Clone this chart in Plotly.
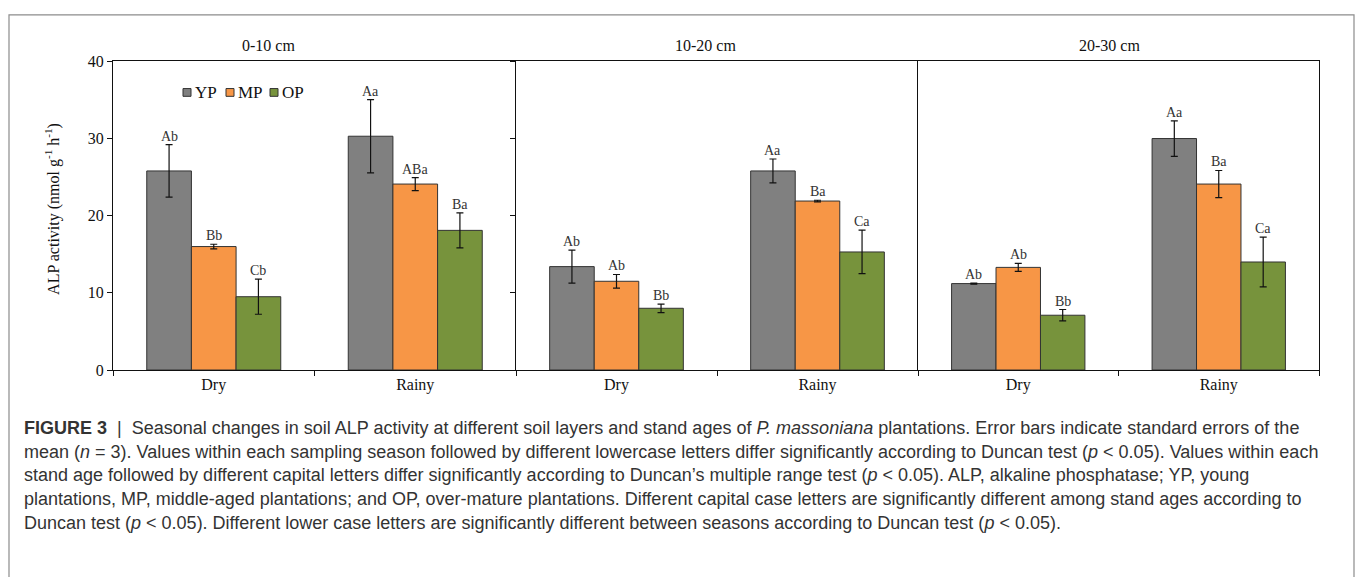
import plotly.graph_objects as go

# ---------------- data ----------------
seasons = ["Dry", "Rainy"]
layers = ["0-10 cm", "10-20 cm", "20-30 cm"]
series = ["YP", "MP", "OP"]
colors = ["#808080", "#F79646", "#77933C"]

# mean ALP activity per layer: [Dry, Rainy]
yp_mean = [[25.8, 30.3], [13.4, 25.8], [11.2, 30.0]]
mp_mean = [[16.0, 24.1], [11.5, 21.9], [13.3, 24.1]]
op_mean = [[9.5, 18.1], [8.0, 15.3], [7.1, 14.0]]

# standard errors
yp_se = [[3.4, 4.75], [2.15, 1.55], [0.08, 2.3]]
mp_se = [[0.3, 0.84], [0.88, 0.1], [0.52, 1.76]]
op_se = [[2.27, 2.27], [0.55, 2.82], [0.74, 3.22]]

# significance letters
yp_lab = [["Ab", "Aa"], ["Ab", "Aa"], ["Ab", "Aa"]]
mp_lab = [["Bb", "ABa"], ["Ab", "Ba"], ["Ab", "Ba"]]
op_lab = [["Cb", "Ba"], ["Bb", "Ca"], ["Bb", "Ca"]]

y_ticks = [0, 10, 20, 30, 40]
y_title = "ALP activity (nmol g<sup>-1</sup> h<sup>-1</sup>)"

caption_lines = [
    "<b>FIGURE 3</b>  |  Seasonal changes in soil ALP activity at different soil layers and stand ages of <i>P. massoniana</i> plantations. Error bars indicate standard errors of the",
    "mean (<i>n</i> = 3). Values within each sampling season followed by different lowercase letters differ significantly according to Duncan test (<i>p</i> &lt; 0.05). Values within each",
    "stand age followed by different capital letters differ significantly according to Duncan’s multiple range test (<i>p</i> &lt; 0.05). ALP, alkaline phosphatase; YP, young",
    "plantations, MP, middle-aged plantations; and OP, over-mature plantations. Different capital case letters are significantly different among stand ages according to",
    "Duncan test (<i>p</i> &lt; 0.05). Different lower case letters are significantly different between seasons according to Duncan test (<i>p</i> &lt; 0.05).",
]

# ---------------- layout geometry ----------------
W, H = 1357, 577
px_x = lambda v: v / W
px_y = lambda v: 1 - v / H
panel_x = [(113, 516), (516, 918), (918, 1319)]
plot_top, plot_bot = 55, 373
title_x = [268, 705, 1109]

SERIF = "Liberation Serif, Times New Roman, serif"
means = [yp_mean, mp_mean, op_mean]
ses = [yp_se, mp_se, op_se]
labs = [yp_lab, mp_lab, op_lab]

fig = go.Figure()
annotations = []
shapes = []
bargap = 0.335
bw = (1 - bargap) / 3

for p in range(3):
    xa = "x" if p == 0 else f"x{p+1}"
    ya = "y" if p == 0 else f"y{p+1}"
    for s in range(3):
        fig.add_trace(go.Bar(
            x=seasons, y=means[s][p], name=series[s],
            marker=dict(color=colors[s], line=dict(color="#333333", width=1)),
            error_y=dict(type="data", array=ses[s][p], color="#111111",
                         thickness=1.2, width=3.5),
            xaxis=xa, yaxis=ya, showlegend=False, offsetgroup=str(s),
        ))
        for c in range(2):
            annotations.append(dict(
                x=c + (s - 1) * bw, y=means[s][p][c] + ses[s][p][c],
                xref=xa, yref=ya, text=labs[s][p][c], showarrow=False,
                yanchor="bottom", xanchor="center", yshift=-1,
                font=dict(family=SERIF, size=14, color="#333333"),
            ))
    annotations.append(dict(
        x=px_x(title_x[p]), y=px_y(39), xref="paper", yref="paper",
        text=layers[p], showarrow=False, xanchor="center", yanchor="middle",
        font=dict(family=SERIF, size=16, color="#111111"),
    ))

# y axis title
annotations.append(dict(
    x=px_x(53), y=px_y(207), xref="paper", yref="paper", text=y_title,
    textangle=-90, showarrow=False, xanchor="center", yanchor="middle",
    font=dict(family=SERIF, size=16, color="#111111"),
))

# legend (manual)
leg_sq = [183, 226, 270]
for s in range(3):
    shapes.append(dict(type="rect", xref="paper", yref="paper",
                       x0=px_x(leg_sq[s]), x1=px_x(leg_sq[s] + 8),
                       y0=px_y(91), y1=px_y(83),
                       fillcolor=colors[s], line=dict(color="#333333", width=1)))
    annotations.append(dict(
        x=px_x(leg_sq[s] + 10), y=px_y(87), xref="paper", yref="paper",
        text=series[s], showarrow=False, xanchor="left", yanchor="middle",
        font=dict(family=SERIF, size=17, color="#111111"),
    ))

# caption
for i, line in enumerate(caption_lines):
    annotations.append(dict(
        x=px_x(22), y=px_y(433 + 24.3 * i), xref="paper", yref="paper",
        text=line, showarrow=False, xanchor="left", yanchor="middle",
        font=dict(family="Liberation Sans, Arial, sans-serif", size=18, color="#333333"),
    ))

# outer border
shapes.append(dict(type="rect", xref="paper", yref="paper",
                   x0=px_x(9), x1=px_x(1354), y0=px_y(600), y1=px_y(7),
                   line=dict(color="#8c8c8c", width=1.2), fillcolor="rgba(0,0,0,0)"))

layout = dict(
    width=W, height=H, margin=dict(l=0, r=0, t=0, b=0),
    paper_bgcolor="white", plot_bgcolor="white",
    barmode="group", bargap=bargap, bargroupgap=0,
    annotations=annotations, shapes=shapes, showlegend=False,
)
for p in range(3):
    xk = "xaxis" if p == 0 else f"xaxis{p+1}"
    yk = "yaxis" if p == 0 else f"yaxis{p+1}"
    layout[xk] = dict(
        domain=[px_x(panel_x[p][0]), px_x(panel_x[p][1])], anchor="y" if p == 0 else f"y{p+1}",
        type="category", range=[-0.5, 1.5], showline=True, linecolor="#111111", linewidth=1.3,
        ticks="outside", tickson="boundaries", ticklen=5, tickcolor="#111111",
        mirror=True, showgrid=False, zeroline=False,
        tickfont=dict(family=SERIF, size=16, color="#111111"),
    )
    layout[yk] = dict(
        domain=[px_y(plot_bot), px_y(plot_top)], anchor="x" if p == 0 else f"x{p+1}",
        range=[0, 40], tickvals=y_ticks, showline=True, linecolor="#111111", linewidth=1.3,
        ticks="outside" if p < 2 else "", ticklen=5, tickcolor="#111111",
        showticklabels=(p == 0), mirror=(p == 2), showgrid=False, zeroline=False,
        tickfont=dict(family=SERIF, size=16, color="#111111"),
    )
fig.update_layout(**layout)
fig.write_html("out.html", config={"displayModeBar": False},
               post_script="document.body.style.margin='0';document.body.style.overflow='hidden';")
